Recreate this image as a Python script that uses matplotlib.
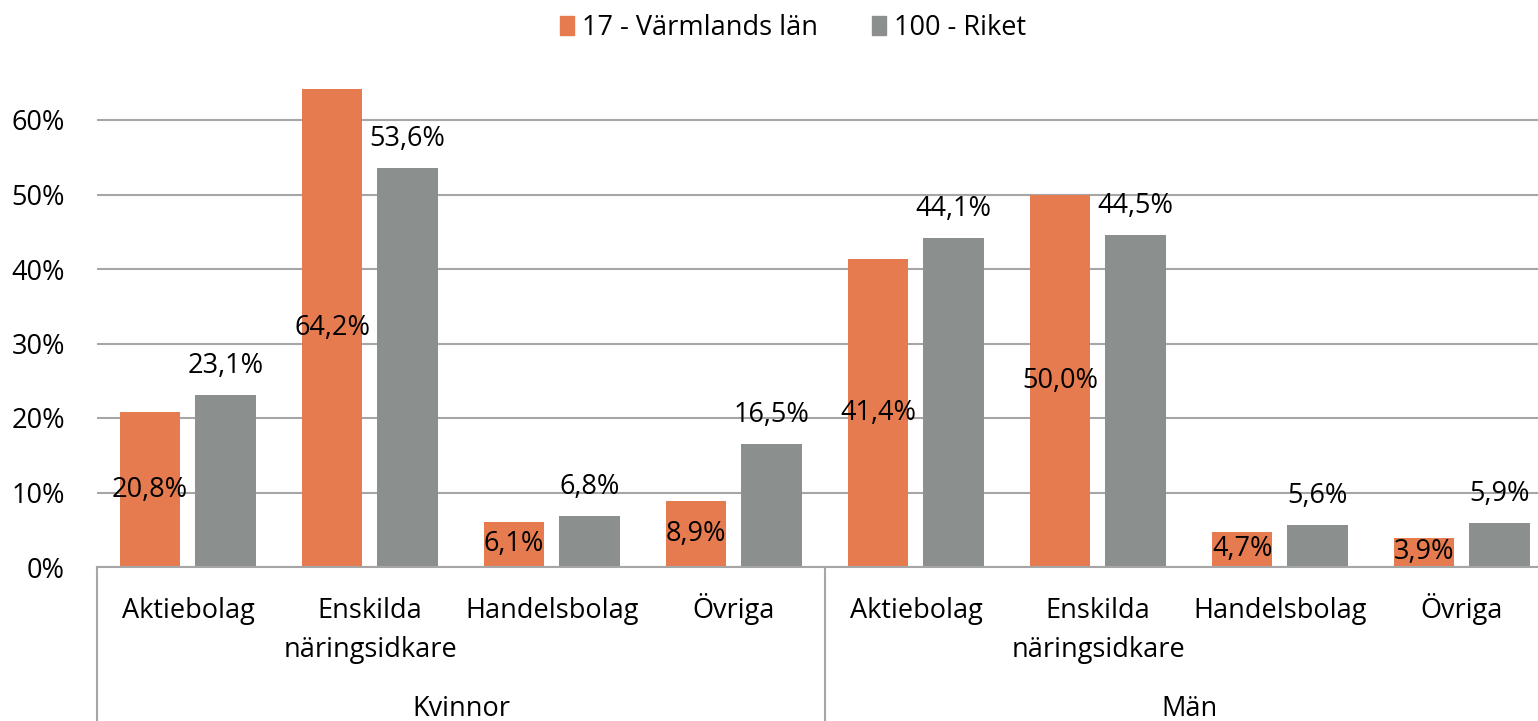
import matplotlib
matplotlib.use("Agg")
import matplotlib.pyplot as plt
from matplotlib.transforms import blended_transform_factory
from matplotlib.patches import Patch

groups = ["Kvinnor", "Män"]
categories = ["Aktiebolag", "Enskilda\nnäringsidkare", "Handelsbolag", "Övriga"]
series_names = ["17 - Värmlands län", "100 - Riket"]
varmland = [20.8, 64.2, 6.1, 8.9, 41.4, 50.0, 4.7, 3.9]
riket = [23.1, 53.6, 6.8, 16.5, 44.1, 44.5, 5.6, 5.9]
yticks = [0, 10, 20, 30, 40, 50, 60]

c_or = "#E57B4F"
c_gr = "#8B8F8D"
grid_c = "#A6A6A6"

plt.rcParams['font.family'] = ['Open Sans', 'DejaVu Sans']
fs = 19.5

fig = plt.figure(figsize=(15.38, 7.21), dpi=100)
W, H = 1538, 721
ax_l, ax_r, ax_b, ax_t = 97, 1553, 567, 45.5
ax = fig.add_axes([ax_l / W, (H - ax_b) / H, (ax_r - ax_l) / W, (ax_b - ax_t) / H])

n = len(varmland)
x = list(range(n))
w = 0.332
ax.bar([i - 0.208 for i in x], varmland, width=w, color=c_or, zorder=3)
ax.bar([i + 0.206 for i in x], riket, width=w, color=c_gr, zorder=3)

fmt = lambda v: f"{v:.1f}%".replace(".", ",")
for i in x:
    ax.text(i - 0.208, varmland[i] / 2, fmt(varmland[i]), ha="center", va="center",
            fontsize=fs, color="#000000", zorder=4)
    ax.annotate(fmt(riket[i]), (i + 0.206, riket[i]), xytext=(0, 21), textcoords="offset points",
                ha="center", va="center", fontsize=fs, color="#000000", zorder=4)

ax.set_xlim(-0.5, n - 0.5)
ax.set_ylim(0, 70)
ax.set_yticks(yticks)
ax.set_yticklabels([f"{t}%" for t in yticks], fontsize=fs)
ax.yaxis.grid(True, color=grid_c, linewidth=1.5, zorder=0)
ax.set_axisbelow(True)
ax.tick_params(axis="y", length=0, pad=23)
ax.tick_params(axis="x", length=0, labelbottom=False)
for s in ["top", "right", "left"]:
    ax.spines[s].set_visible(False)
ax.spines["bottom"].set_color(grid_c)
ax.spines["bottom"].set_linewidth(1.5)
ax.spines["bottom"].set_zorder(5)

tr = blended_transform_factory(ax.transData, fig.transFigure)
line_baselines = [618, 657]
for g in range(len(groups)):
    for j, cat in enumerate(categories):
        i = g * len(categories) + j
        for k, line in enumerate(cat.split("\n")):
            ax.text(i, (H - line_baselines[k]) / H, line, transform=tr, ha="center",
                    va="baseline", fontsize=fs, clip_on=False)
    center = g * len(categories) + (len(categories) - 1) / 2
    ax.text(center, (H - 716) / H, groups[g], transform=tr, ha="center", va="baseline",
            fontsize=fs, clip_on=False)

for xb in [-0.5, 3.5, 7.5]:
    ax.plot([xb, xb], [(H - ax_b) / H, 0], transform=tr, color=grid_c, linewidth=1.5,
            clip_on=False)

handles = [Patch(color=c_or), Patch(color=c_gr)]
fig.legend(handles, series_names, loc="center", bbox_to_anchor=(793 / W, (H - 28) / H),
           ncol=2, frameon=False, fontsize=fs, handlelength=0.5, handleheight=0.7,
           handletextpad=0.3, columnspacing=2.0)

fig.savefig("out.png", dpi=100)
